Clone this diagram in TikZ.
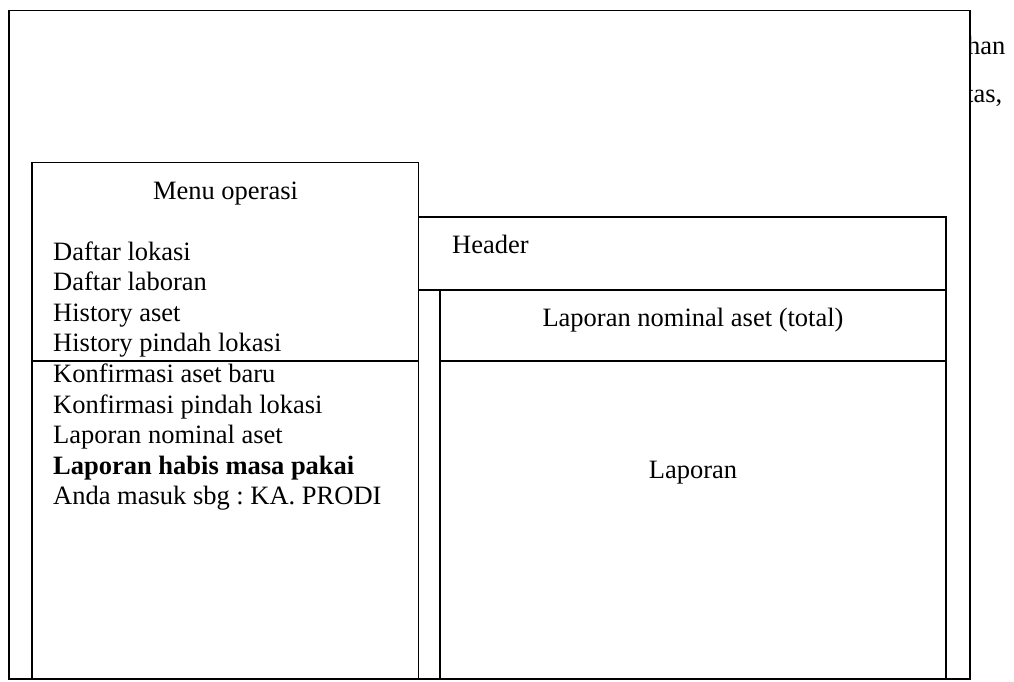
\documentclass[tikz,border=0pt]{standalone}
\usepackage{fontspec}
\setmainfont{Liberation Serif}
\frenchspacing
\begin{document}
\begin{tikzpicture}[x=1pt,y=-1pt,
  frame/.style={draw=black, line width=1.8pt},
  lbl/.style={inner sep=0pt, font=\fontsize{26.5}{30.6}\selectfont}]
\useasboundingbox (0,0) rectangle (1014,681);
% running text of the page, mostly hidden behind the layout frame
\node[lbl, anchor=base west] (pageA) at (967,54) {han};
\node[lbl, anchor=base west] (pageB) at (966,102) {tas,};
% outer window
\draw[frame, fill=white] (9,10.5) rectangle (970,679);
% menu panel
\draw[frame] (32,162.5) rectangle (418.5,679);
\draw[frame] (32,361) -- (418.5,361);
% header panel
\draw[frame] (418.5,217) rectangle (946,290);
% report panel
\draw[frame] (440,290) rectangle (946,679);
\draw[frame] (440,361) -- (946,361);
% labels
\node[lbl, anchor=base] (menu) at (225.5,199) {Menu operasi};
\foreach \name/\y/\txt in {
  m1/260/{Daftar lokasi},
  m2/290.6/{Daftar laboran},
  m3/321.2/{History aset},
  m4/351.8/{History pindah lokasi},
  m5/382.4/{Konfirmasi aset baru},
  m6/413/{Konfirmasi pindah lokasi},
  m7/443.6/{Laporan nominal aset},
  m8/474.2/{\textbf{Laporan habis masa pakai}},
  m9/504.8/{Anda masuk sbg : KA. PRODI}}
  \node[lbl, anchor=base west] (\name) at (53,\y) {\txt};
\node[lbl, anchor=base west] (header) at (452,253) {Header};
\node[lbl, anchor=base] (total) at (693,326) {Laporan nominal aset (total)};
\node[lbl, anchor=base] (report) at (693,478) {Laporan};
\end{tikzpicture}
\end{document}
